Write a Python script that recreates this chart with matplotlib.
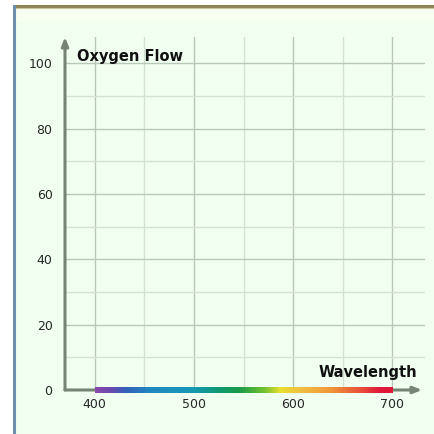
import numpy as np
import matplotlib.pyplot as plt
from matplotlib.colors import LinearSegmentedColormap
from matplotlib.patches import Rectangle
from matplotlib.lines import Line2D

# axis labels and ticks
y_label = "Oxygen Flow"
x_label = "Wavelength"
x_ticks = [400, 500, 600, 700]
y_ticks = [0, 20, 40, 60, 80, 100]

# visible spectrum (wavelength -> colour) drawn along the x axis
spectrum_nm = [400, 415, 430, 455, 495, 520, 545, 570, 587, 607, 637, 668, 688, 700]
spectrum_colors = ["#8848a8", "#6a4ab0", "#3560b8", "#2088c0", "#1898b8", "#10987e",
                   "#1a9a48", "#70c030", "#e8e030", "#f0c040", "#f09838", "#e85038",
                   "#e01838", "#e01838"]

bg = "#f0fff0"
axis_col = "#758575"

fig = plt.figure(figsize=(4.35, 4.34), dpi=100)
fig.patch.set_facecolor("white")

# panel frame: light green area with olive top edge and blue left edge
fig.add_artist(Rectangle((15 / 435, 0), 420 / 435, 428 / 434, transform=fig.transFigure,
                         facecolor=bg, edgecolor="none", zorder=-10))
fig.add_artist(Rectangle((16 / 435, 412 / 434), 419 / 435, 14 / 434, transform=fig.transFigure,
                         facecolor="#f6fff0", edgecolor="none", zorder=-9))
fig.add_artist(Line2D([15 / 435, 1], [428 / 434, 428 / 434], transform=fig.transFigure,
                      color="#8a8458", lw=2.2, zorder=-5))
fig.add_artist(Line2D([16 / 435, 1], [426 / 434, 426 / 434], transform=fig.transFigure,
                      color="#c8c8a0", lw=0.8, zorder=-5))
fig.add_artist(Line2D([14.5 / 435, 14.5 / 435], [0, 428 / 434], transform=fig.transFigure,
                      color="#6f8fb0", lw=2.2, zorder=-5))

ax = fig.add_axes([65 / 435, 44 / 434, 360 / 435, 353 / 434])
ax.set_zorder(1)
ax.set_facecolor("none")

for s in ax.spines.values():
    s.set_visible(False)

# grid: major every 100/20, minor every 50/10
ax.set_xticks(x_ticks)
ax.set_yticks(y_ticks)
ax.set_xticks([450, 550, 650], minor=True)
ax.set_yticks([10, 30, 50, 70, 90], minor=True)
ax.grid(True, which="major", color="#b8c8b8", lw=1.0)
ax.grid(True, which="minor", color="#d4e2d4", lw=1.0)
ax.tick_params(which="both", length=0)
ax.tick_params(axis="x", pad=6, labelsize=9, labelcolor="#262626")
ax.tick_params(axis="y", pad=9, labelsize=9, labelcolor="#262626")
ax.set_axisbelow(True)

# axes with arrow heads
ax.annotate("", xy=(370, 108), xytext=(370, 0), xycoords="data",
            arrowprops=dict(arrowstyle="-|>,head_length=0.5,head_width=0.2",
                            color=axis_col, lw=2.2, shrinkA=0, shrinkB=0),
            annotation_clip=False)
ax.annotate("", xy=(730, 0), xytext=(370, 0), xycoords="data",
            arrowprops=dict(arrowstyle="-|>,head_length=0.5,head_width=0.2",
                            color=axis_col, lw=2.2, shrinkA=0, shrinkB=0),
            annotation_clip=False)

# spectrum bar on the x axis
pos = [(w - spectrum_nm[0]) / (spectrum_nm[-1] - spectrum_nm[0]) for w in spectrum_nm]
cmap = LinearSegmentedColormap.from_list("spectrum", list(zip(pos, spectrum_colors)))
grad = np.linspace(0, 1, 300).reshape(1, -1)
ax.imshow(grad, cmap=cmap, aspect="auto", extent=(400, 700, -0.8, 0.8),
          zorder=5, clip_on=False, interpolation="bilinear")
ax.set_xlim(370, 733)
ax.set_ylim(0, 108)

ax.text(382, 102, y_label, fontsize=10.5, fontweight="heavy", color="#101010",
        ha="left", va="center")
ax.text(725, 5.5, x_label, fontsize=10.5, fontweight="heavy", color="#101010",
        ha="right", va="center")

fig.savefig("out.png", dpi=100, facecolor=fig.get_facecolor())
